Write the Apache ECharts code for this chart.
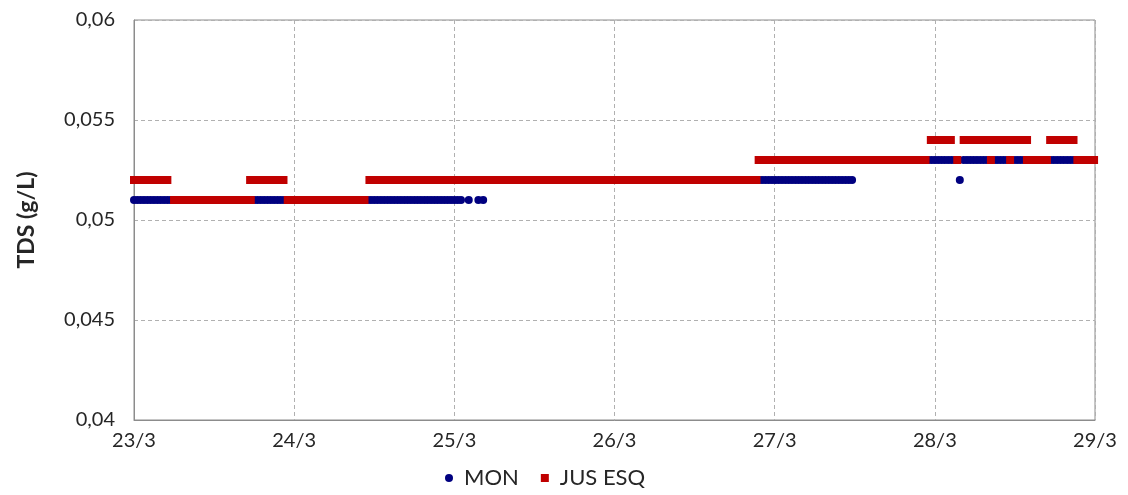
<!DOCTYPE html>
<html>
<head>
<meta charset="utf-8">
<title>TDS</title>
<script src="https://cdn.jsdelivr.net/npm/echarts@6/dist/echarts.min.js"></script>
<style>
  html, body { margin: 0; padding: 0; background: #fff; }
  #chart { width: 1128px; height: 495px; }
</style>
</head>
<body>
<div id="chart"></div>
<script>
// x is days since 23/3, readings every 30 min
const dayLabels = ['23/3', '24/3', '25/3', '26/3', '27/3', '28/3', '29/3'];
const yTicks = [0.04, 0.045, 0.05, 0.055, 0.06];
const sampleStep = 1 / 48;

// runs: [startDay, endDay, value]
const monRuns = [
  [0, 2.05, 0.051],
  [2.09, 2.09, 0.051],
  [2.15, 2.15, 0.051],
  [2.18, 2.18, 0.051],
  [3.9, 4.5, 0.052],
  [4.52, 5.14, 0.053],
  [5.156, 5.156, 0.052],
  [5.18, 6.0, 0.053]
];

const jusRuns = [
  [0, 0.21, 0.052],
  [0.25, 0.73, 0.051],
  [0.725, 0.94, 0.052],
  [0.96, 1.44, 0.051],
  [1.47, 3.89, 0.052],
  [3.9, 4.95, 0.053],
  [4.975, 5.11, 0.054],
  [5.14, 5.16, 0.053],
  [5.18, 5.59, 0.054],
  [5.35, 5.35, 0.053],
  [5.47, 5.47, 0.053],
  [5.575, 5.70, 0.053],
  [5.72, 5.87, 0.054],
  [5.89, 6.0, 0.053]
];

function expand(runs) {
  const pts = [];
  runs.forEach(([s, e, v]) => {
    for (let t = s; t <= e + 1e-9; t += sampleStep) pts.push([t, v]);
  });
  return pts;
}

const font = 'Lato, "Open Sans", sans-serif';
const textColor = '#262626';

const chart = echarts.init(document.getElementById('chart'));
chart.setOption({
  animation: false,
  grid: { left: 134, right: 33, top: 20, bottom: 75, show: true, borderColor: '#8c8c8c', borderWidth: 1 },
  xAxis: {
    type: 'value', min: 0, max: 6, interval: 1,
    axisLine: { show: true, lineStyle: { color: '#8c8c8c' } },
    axisTick: { show: false },
    axisLabel: { color: textColor, fontSize: 20, fontFamily: font, margin: 11,
      formatter: v => dayLabels[Math.round(v)] },
    splitLine: { show: true, lineStyle: { color: '#b0b0b0', type: [4, 3] } }
  },
  yAxis: {
    type: 'value', min: 0.04, max: 0.06, interval: 0.005,
    name: 'TDS (g/L)', nameLocation: 'middle', nameGap: 96,
    nameTextStyle: { color: textColor, fontSize: 23, fontWeight: 'bold', fontFamily: font },
    axisLine: { show: true, lineStyle: { color: '#8c8c8c' } },
    axisTick: { show: false },
    axisLabel: { color: textColor, fontSize: 20, fontFamily: font, margin: 19,
      formatter: v => {
        const t = yTicks.find(k => Math.abs(k - v) < 1e-9);
        return String(t !== undefined ? t : v).replace('.', ',');
      } },
    splitLine: { show: true, lineStyle: { color: '#b0b0b0', type: [4, 3] } }
  },
  legend: {
    bottom: 1, left: 440, itemWidth: 8, itemHeight: 8, itemGap: 22,
    textStyle: { color: textColor, fontSize: 22, fontFamily: font, padding: [0, 0, 0, 6] },
    data: [{ name: 'MON', icon: 'circle' }, { name: 'JUS ESQ', icon: 'rect' }]
  },
  series: [
    { name: 'MON', type: 'scatter', symbol: 'circle', symbolSize: 8,
      itemStyle: { color: '#000080', opacity: 1 }, emphasis: { disabled: true },
      data: expand(monRuns) },
    { name: 'JUS ESQ', type: 'scatter', symbol: 'rect', symbolSize: 8,
      itemStyle: { color: '#c00000', opacity: 1 }, emphasis: { disabled: true },
      data: expand(jusRuns) }
  ]
});
</script>
</body>
</html>
